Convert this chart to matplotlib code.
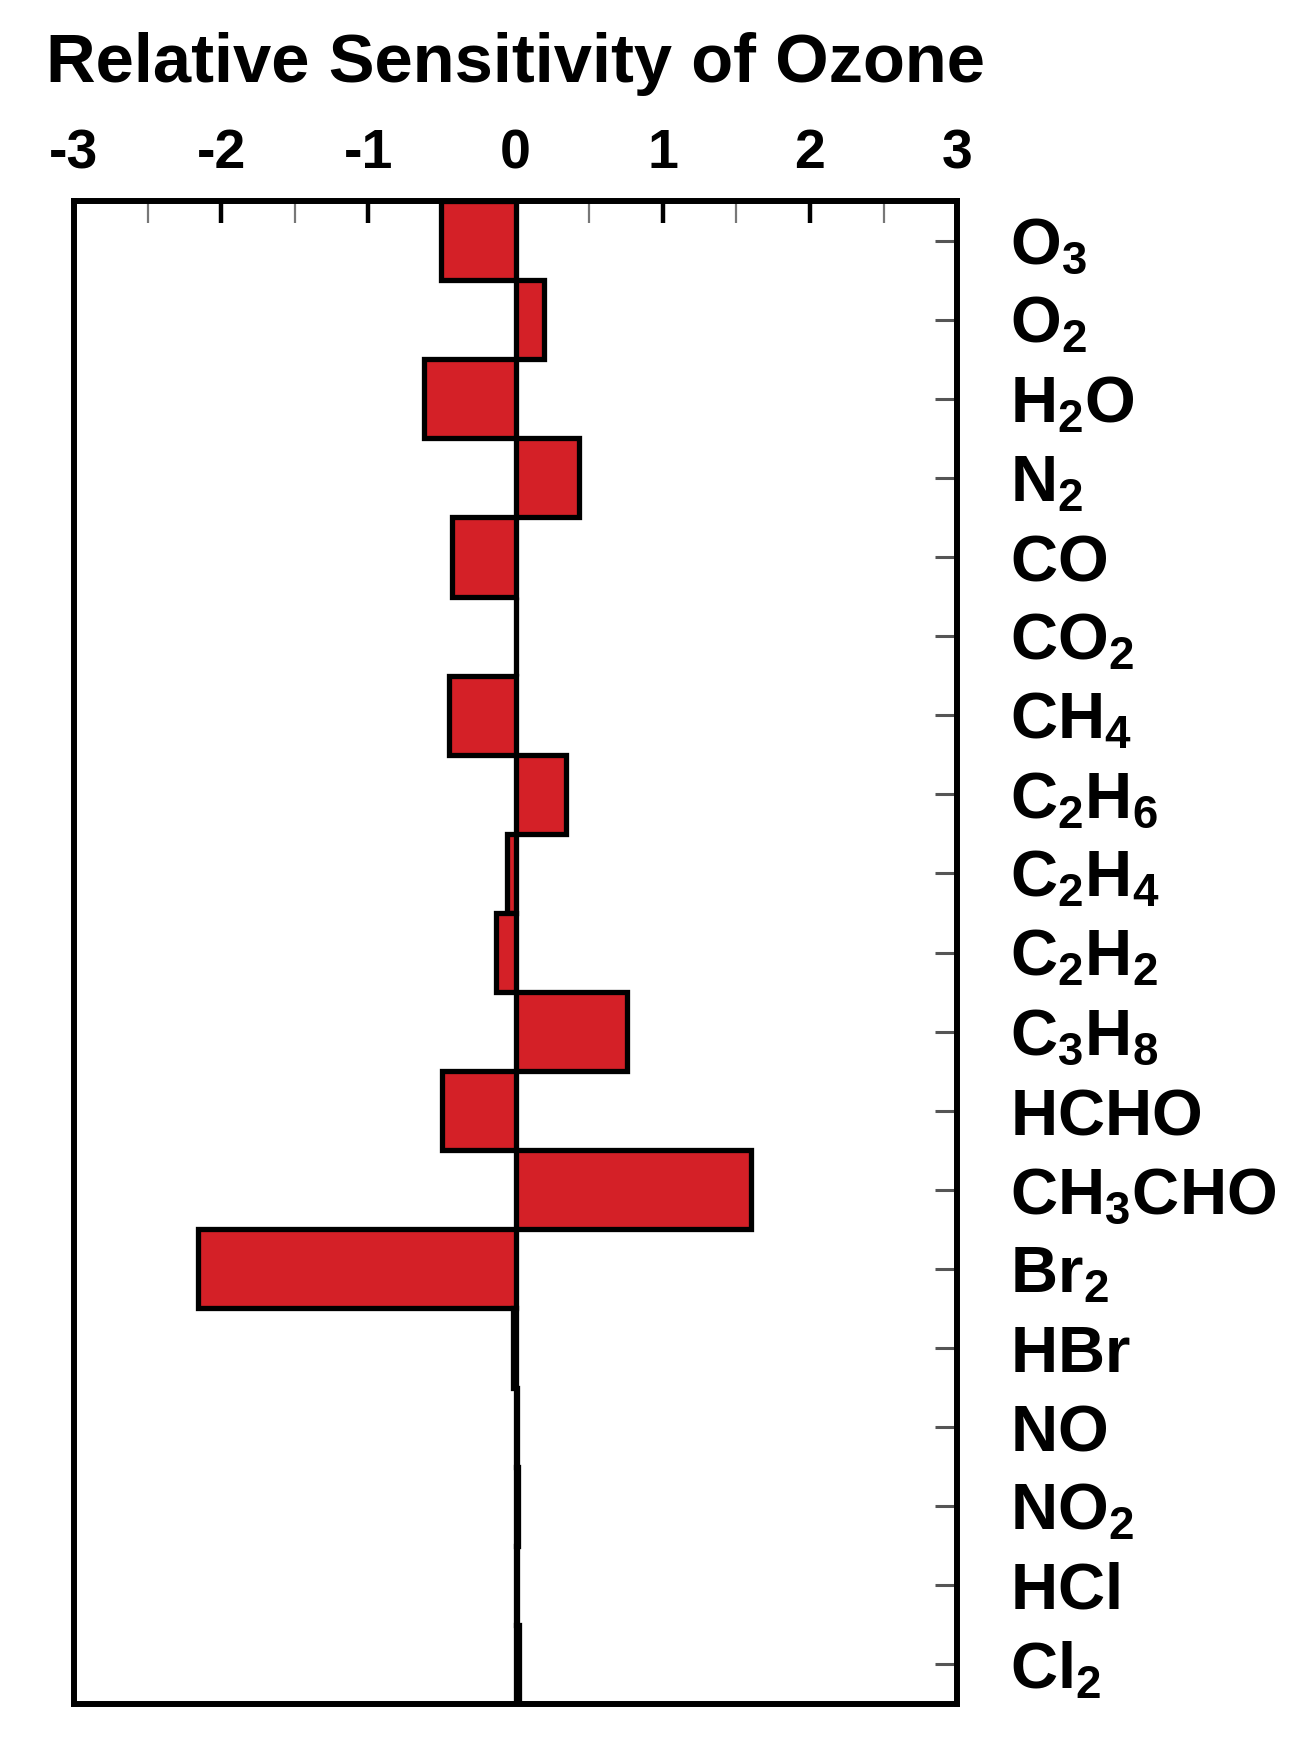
import matplotlib
matplotlib.use("Agg")
import matplotlib.pyplot as plt
from matplotlib.ticker import MultipleLocator

plt.rcParams['font.family'] = ['Liberation Sans', 'DejaVu Sans']
plt.rcParams['font.weight'] = 'bold'
plt.rcParams['mathtext.fontset'] = 'custom'
plt.rcParams['mathtext.rm'] = 'Liberation Sans:bold'
plt.rcParams['mathtext.bf'] = 'Liberation Sans:bold'
plt.rcParams['mathtext.it'] = 'Liberation Sans:bold'
plt.rcParams['mathtext.default'] = 'bf'

species = [r'$O_3$', r'$O_2$', r'$H_2O$',
           r'$N_2$', r'$CO$', r'$CO_2$',
           r'$CH_4$', r'$C_2H_6$', r'$C_2H_4$',
           r'$C_2H_2$', r'$C_3H_8$', r'$HCHO$',
           r'$CH_3CHO$', r'$Br_2$', r'$HBr$',
           r'$NO$', r'$NO_2$', r'$HCl$',
           r'$Cl_2$']
sensitivity = [-0.51, 0.19, -0.62, 0.43, -0.43, 0.0, -0.45, 0.34, -0.06, -0.13,
               0.76, -0.50, 1.60, -2.16, -0.02, 0.01, 0.015, 0.01, 0.02]
x_ticks = [-3, -2, -1, 0, 1, 2, 3]
x_tick_labels = ['-3', '-2', '-1', '0', '1', '2', '3']

fig = plt.figure(figsize=(13, 17.41), dpi=100)
ax = fig.add_axes([0.0569, 0.02125, 0.6794, 0.8633])

ypos = list(range(len(species)))
ax.barh(ypos, sensitivity, height=1.0, color='#D42027', edgecolor='black',
        linewidth=3.8, zorder=2)

ax.set_xlim(-3, 3)
ax.set_ylim(len(species) - 0.5, -0.5)

for s in ax.spines.values():
    s.set_linewidth(4.3)
    s.set_zorder(3)

ax.xaxis.set_ticks_position('top')
ax.set_xticks(x_ticks)
ax.set_xticklabels(x_tick_labels, fontsize=40, fontweight='bold')
ax.xaxis.set_minor_locator(MultipleLocator(0.5))
ax.tick_params(axis='x', which='major', direction='in', length=16, width=3.2,
               color='black', pad=15, top=True, bottom=False)
ax.tick_params(axis='x', which='minor', direction='in', length=16, width=1.6,
               color='#777777', top=True, bottom=False)

ax.yaxis.set_ticks_position('right')
ax.set_yticks(ypos)
ax.set_yticklabels(species, fontsize=47, fontweight='bold')
ax.tick_params(axis='y', direction='in', length=16, width=2.2, color='#555555',
               pad=38, left=False, right=True)

fig.text(0.3965, 0.9635, 'Relative Sensitivity of Ozone', ha='center', va='center',
         fontsize=49.5, fontweight='bold')

fig.savefig('out.png', dpi=100, facecolor='white')
